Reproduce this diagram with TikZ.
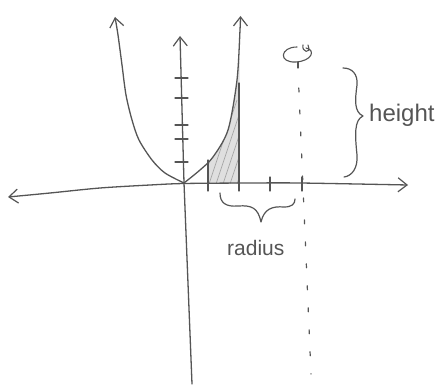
\documentclass[tikz,border=0pt]{standalone}
\usepackage{fontspec}
\setmainfont{Liberation Sans}
\usetikzlibrary{arrows.meta,decorations.pathreplacing}
\definecolor{pencil}{HTML}{555555}
\tikzset{
  pen/.style={draw=pencil, line width=1.3pt, line cap=round, line join=round},
  tip/.style={-{Straight Barb[length=9pt,width=14pt,line width=1.2pt]}},
  tiptwo/.style={{Straight Barb[length=9pt,width=14pt,line width=1.2pt]}-{Straight Barb[length=9pt,width=14pt,line width=1.2pt]}},
  tickmark/.style={draw=pencil, line width=1.3pt, line cap=round},
  hand/.style={text=pencil, inner sep=0pt},
}
\begin{document}
\begin{tikzpicture}[x=1pt,y=-1pt]
\useasboundingbox (0,0) rectangle (444,390);
\fill[white] (0,0) rectangle (444,390);

% shaded region
\begin{scope}
  \clip (208,60) rectangle (239.5,183.5);
  \fill[gray!25] plot[smooth] coordinates {(184,183) (200,170) (213,157) (228,130) (237,80) (240,30)} -- (270,30) -- (270,184) -- cycle;
  \begin{scope}
    \clip plot[smooth] coordinates {(184,183) (200,170) (213,157) (228,130) (237,80) (240,30)} -- (270,30) -- (270,184) -- cycle;
    \foreach \k in {0,...,14} {
      \draw[gray!70, line width=0.7pt] (200+\k*7,190) -- (230+\k*7,100);
    }
  \end{scope}
\end{scope}
\draw[pen] (208,184) -- (208,160);
\draw[pen] (239,184) -- (239,83);

% x-axis
\draw[pen, tiptwo] plot[smooth] coordinates {(8,197) (50,193) (100,188) (150,185) (184,183.5) (250,183) (300,183) (408,185)};
% y-axis
\draw[pen, tip] (192,384) -- (184,183) -- (180,36);

% y ticks
\foreach \y in {78,98,125,139,162} {
  \draw[tickmark] (175,\y) -- (188,\y);
}
% x ticks
\foreach \x in {208,239,270,302} {
  \draw[tickmark] (\x,177) -- (\x,191);
}

% parabola
\draw[pen, tip] plot[smooth] coordinates {(184,183) (165,173) (152,160) (139,140) (132,120) (126,95) (122,65) (118,35) (115,17)};
\draw[pen, tip] plot[smooth] coordinates {(184,183) (200,170) (213,157) (228,130) (237,80) (240,30) (240.5,16)};

% axis of rotation
\draw[pen, line width=1.2pt, dash pattern=on 4pt off 18pt] (298.8,88) -- (311,374);

% rotation symbol
\draw[pen, line width=1.1pt] (297,47) .. controls (280,47) and (278,63) .. (296,62) .. controls (312,61) and (316,50) .. (306,48);
\draw[pen, line width=1.1pt] (303,45) .. controls (301,52) and (312,55) .. (308,45);
\draw[pen, line width=1.1pt] (298,62) -- (298,68);

% height brace
\draw[pen, line width=1.2pt] (343,68) .. controls (352,68) and (358,74) .. (357,85)
  .. controls (355,100) and (354,112) .. (363,116)
  .. controls (354,120) and (355,135) .. (357,155)
  .. controls (358,168) and (352,176) .. (344,177);
\node[hand, font=\fontsize{24}{24}\selectfont, anchor=base west] (height) at (369,122) {height};

% radius brace
\draw[pen, line width=1.2pt] (220,193) .. controls (220,203) and (226,207) .. (238,206)
  .. controls (252,205) and (258,208) .. (261,222)
  .. controls (264,209) and (272,206) .. (284,207)
  .. controls (292,207) and (295,204) .. (295,199);
\node[hand, font=\fontsize{21}{21}\selectfont, anchor=base west] (radius) at (227,255) {radius};
\end{tikzpicture}
\end{document}
